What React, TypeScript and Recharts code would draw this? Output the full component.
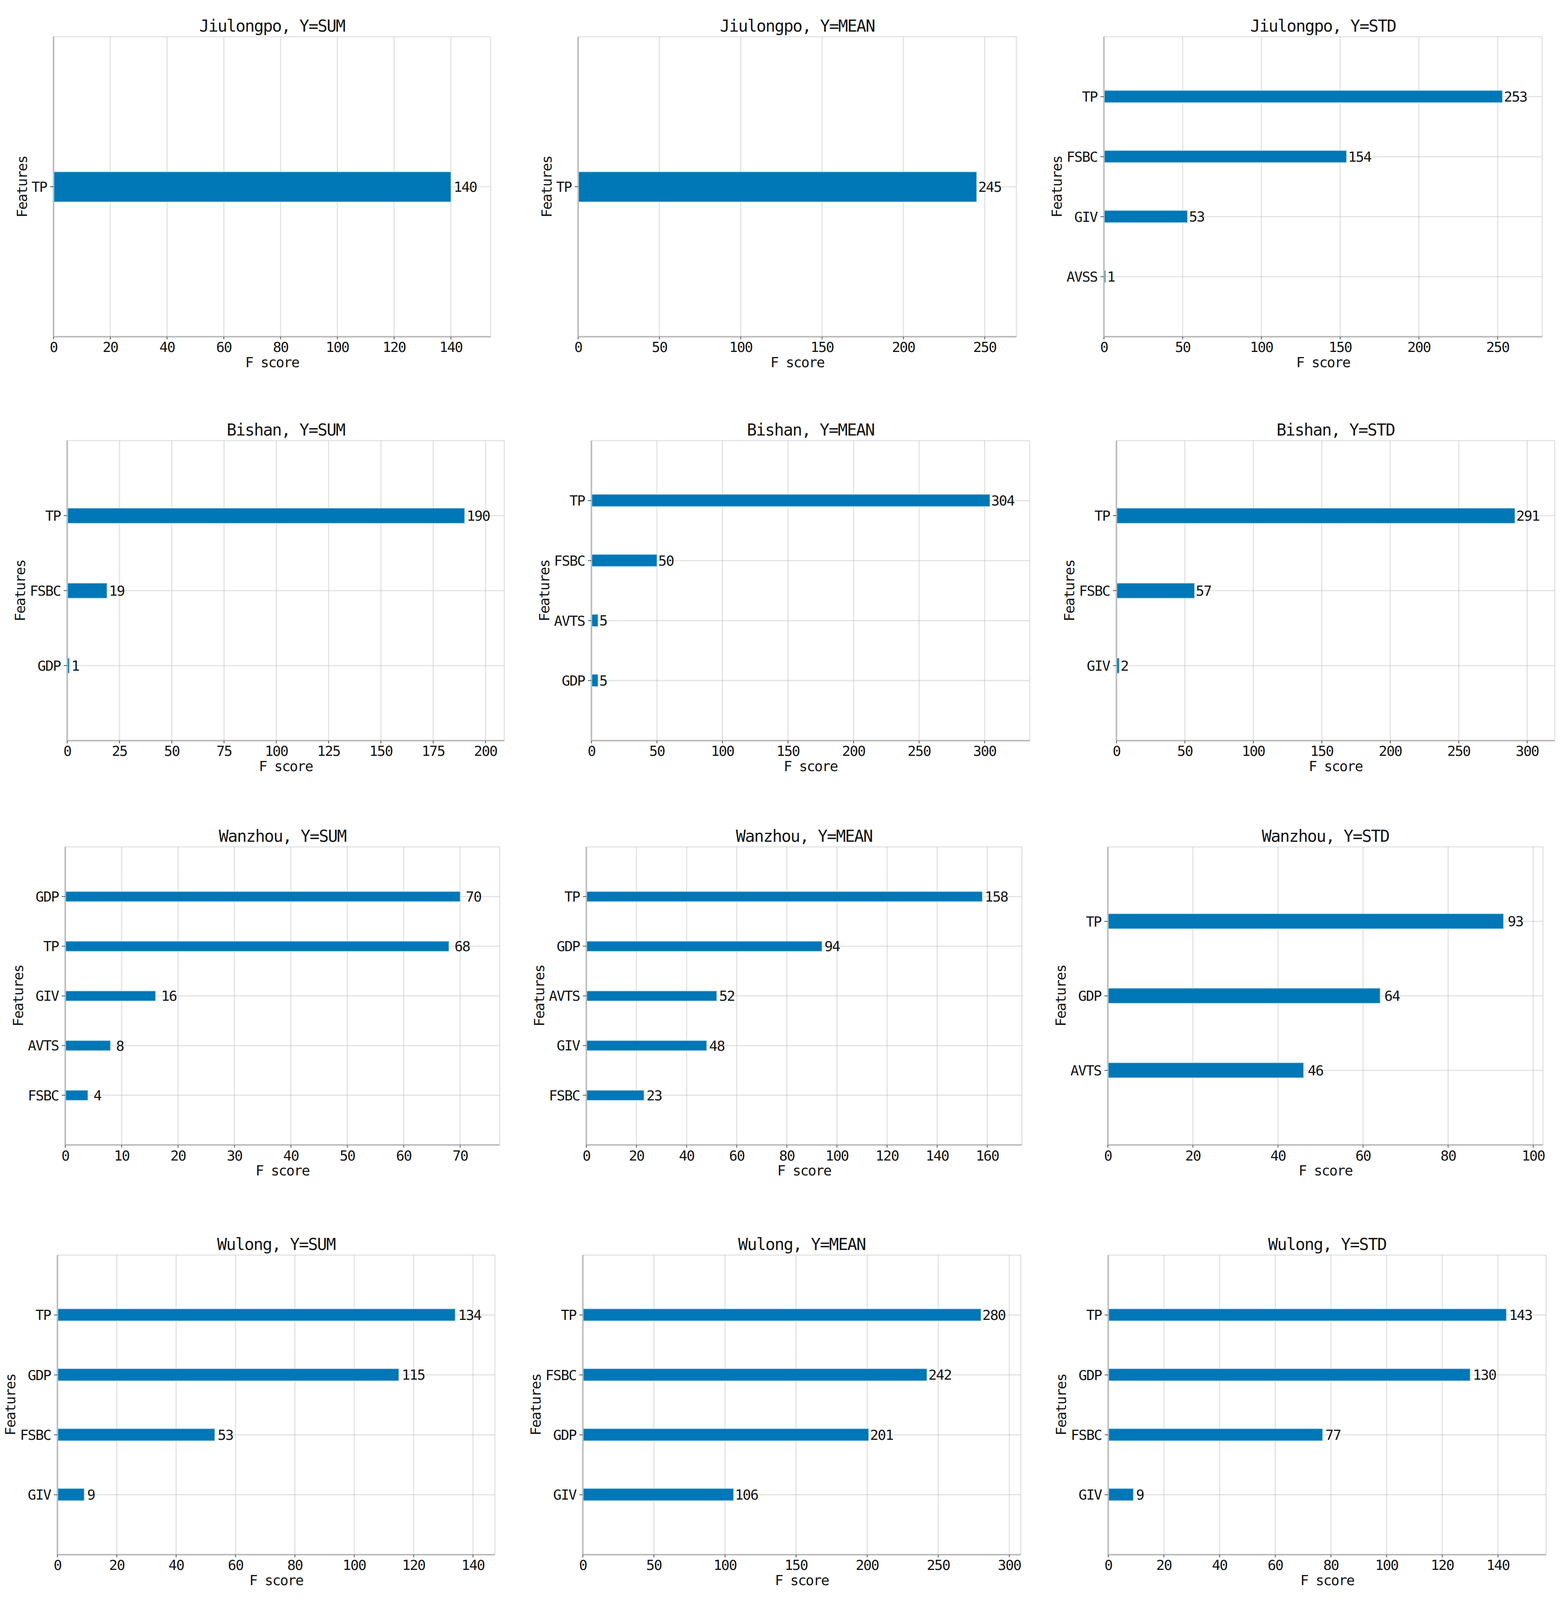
import React from "react";
import { BarChart, Bar, XAxis, YAxis, CartesianGrid, LabelList } from "recharts";

// Feature names listed top-to-bottom as they appear in each panel
const jiulongpoSumFeatures = ["TP"];
const jiulongpoSumScores = [140];
const jiulongpoSumTicks = [0, 20, 40, 60, 80, 100, 120, 140];

const jiulongpoMeanFeatures = ["TP"];
const jiulongpoMeanScores = [245];
const jiulongpoMeanTicks = [0, 50, 100, 150, 200, 250];

const jiulongpoStdFeatures = ["TP", "FSBC", "GIV", "AVSS"];
const jiulongpoStdScores = [253, 154, 53, 1];
const jiulongpoStdTicks = [0, 50, 100, 150, 200, 250];

const bishanSumFeatures = ["TP", "FSBC", "GDP"];
const bishanSumScores = [190, 19, 1];
const bishanSumTicks = [0, 25, 50, 75, 100, 125, 150, 175, 200];

const bishanMeanFeatures = ["TP", "FSBC", "AVTS", "GDP"];
const bishanMeanScores = [304, 50, 5, 5];
const bishanMeanTicks = [0, 50, 100, 150, 200, 250, 300];

const bishanStdFeatures = ["TP", "FSBC", "GIV"];
const bishanStdScores = [291, 57, 2];
const bishanStdTicks = [0, 50, 100, 150, 200, 250, 300];

const wanzhouSumFeatures = ["GDP", "TP", "GIV", "AVTS", "FSBC"];
const wanzhouSumScores = [70, 68, 16, 8, 4];
const wanzhouSumTicks = [0, 10, 20, 30, 40, 50, 60, 70];

const wanzhouMeanFeatures = ["TP", "GDP", "AVTS", "GIV", "FSBC"];
const wanzhouMeanScores = [158, 94, 52, 48, 23];
const wanzhouMeanTicks = [0, 20, 40, 60, 80, 100, 120, 140, 160];

const wanzhouStdFeatures = ["TP", "GDP", "AVTS"];
const wanzhouStdScores = [93, 64, 46];
const wanzhouStdTicks = [0, 20, 40, 60, 80, 100];

const wulongSumFeatures = ["TP", "GDP", "FSBC", "GIV"];
const wulongSumScores = [134, 115, 53, 9];
const wulongSumTicks = [0, 20, 40, 60, 80, 100, 120, 140];

const wulongMeanFeatures = ["TP", "FSBC", "GDP", "GIV"];
const wulongMeanScores = [280, 242, 201, 106];
const wulongMeanTicks = [0, 50, 100, 150, 200, 250, 300];

const wulongStdFeatures = ["TP", "GDP", "FSBC", "GIV"];
const wulongStdScores = [143, 130, 77, 9];
const wulongStdTicks = [0, 20, 40, 60, 80, 100, 120, 140];

const panels = [
  { title: "Jiulongpo, Y=SUM", features: jiulongpoSumFeatures, scores: jiulongpoSumScores, ticks: jiulongpoSumTicks },
  { title: "Jiulongpo, Y=MEAN", features: jiulongpoMeanFeatures, scores: jiulongpoMeanScores, ticks: jiulongpoMeanTicks },
  { title: "Jiulongpo, Y=STD", features: jiulongpoStdFeatures, scores: jiulongpoStdScores, ticks: jiulongpoStdTicks },
  { title: "Bishan, Y=SUM", features: bishanSumFeatures, scores: bishanSumScores, ticks: bishanSumTicks },
  { title: "Bishan, Y=MEAN", features: bishanMeanFeatures, scores: bishanMeanScores, ticks: bishanMeanTicks },
  { title: "Bishan, Y=STD", features: bishanStdFeatures, scores: bishanStdScores, ticks: bishanStdTicks },
  { title: "Wanzhou, Y=SUM", features: wanzhouSumFeatures, scores: wanzhouSumScores, ticks: wanzhouSumTicks },
  { title: "Wanzhou, Y=MEAN", features: wanzhouMeanFeatures, scores: wanzhouMeanScores, ticks: wanzhouMeanTicks },
  { title: "Wanzhou, Y=STD", features: wanzhouStdFeatures, scores: wanzhouStdScores, ticks: wanzhouStdTicks },
  { title: "Wulong, Y=SUM", features: wulongSumFeatures, scores: wulongSumScores, ticks: wulongSumTicks },
  { title: "Wulong, Y=MEAN", features: wulongMeanFeatures, scores: wulongMeanScores, ticks: wulongMeanTicks },
  { title: "Wulong, Y=STD", features: wulongStdFeatures, scores: wulongStdScores, ticks: wulongStdTicks },
];

// plot-area rectangles [left, right, top, bottom] in reference pixels
const plotRects = [
  [137, 1256, 95, 874], [1480, 2602, 95, 874], [2826, 3948, 95, 874],
  [172, 1291, 1144, 1923], [1514, 2636, 1144, 1923], [2858, 3980, 1144, 1923],
  [167, 1279, 2199, 2973], [1501, 2616, 2199, 2973], [2836, 3950, 2199, 2973],
  [147, 1267, 3259, 4037], [1492, 2613, 3259, 4037], [2837, 3958, 3259, 4037],
];

const PAGE_W = 4014;
const PAGE_H = 4155;
const FONT = '"DejaVu Sans Mono", "Liberation Mono", monospace';
const TEXT = "#141414";
const FS = 36;
const LS = -2;
const BAR = "#0077b6";
const SPINE = { stroke: "#bdbdbd", strokeWidth: 4 };
const TICK_LINE = { stroke: "#555", strokeWidth: 2 };
const tickText = { fill: TEXT, fontSize: FS, fontFamily: FONT, letterSpacing: LS, style: { letterSpacing: LS } };

function Panel({ title, features, scores, ticks, rect, k }) {
  const [x0, x1, ry0, ry1] = rect;
  const y0 = ry0 * k;
  const y1 = ry1 * k;
  const plotW = x1 - x0;
  const plotH = y1 - y0;
  const n = features.length;
  const xMax = Math.max(...scores) * 1.1;
  const unit = plotH / (n + 1);
  const data = features.map((f, i) => ({ feature: f, score: scores[i] }));
  const left = 240;
  const top = 90;
  const right = 70;
  const bottom = 120;
  const maxChars = Math.max(...features.map((f) => f.length));
  const textStyle = {
    position: "absolute",
    fontFamily: FONT,
    color: TEXT,
    whiteSpace: "nowrap",
    lineHeight: 1,
    letterSpacing: LS,
  } as const;

  return (
    <div style={{ position: "absolute", left: x0 - left, top: y0 - top, width: plotW + left + right, height: plotH + top + bottom }}>
      <BarChart
        width={plotW + left + right}
        height={plotH + top + bottom}
        data={data}
        layout="vertical"
        margin={{ top, right, bottom: 0, left: 0 }}
      >
        <XAxis
          xAxisId="b"
          type="number"
          domain={[0, xMax]}
          ticks={ticks}
          interval={0}
          allowDataOverflow
          height={bottom}
          axisLine={SPINE}
          tickLine={TICK_LINE}
          tickSize={7}
          tickMargin={7}
          tick={tickText}
        />
        <XAxis xAxisId="t" orientation="top" type="number" domain={[0, xMax]} height={0} tick={false} tickLine={false} axisLine={SPINE} />
        <YAxis
          yAxisId="l"
          type="category"
          dataKey="feature"
          width={left}
          padding={{ top: unit / 2, bottom: unit / 2 }}
          interval={0}
          axisLine={SPINE}
          tickLine={TICK_LINE}
          tickSize={9}
          tickMargin={8}
          tick={tickText}
        />
        <YAxis
          yAxisId="r"
          orientation="right"
          type="category"
          dataKey="feature"
          width={0}
          padding={{ top: unit / 2, bottom: unit / 2 }}
          tick={false}
          tickLine={false}
          axisLine={SPINE}
        />
        <Bar
          xAxisId="b"
          yAxisId="l"
          dataKey="score"
          barSize={unit * 0.2}
          fill={BAR}
          stroke="#9ccfec"
          strokeWidth={1.5}
          isAnimationActive={false}
        >
          <LabelList
            dataKey="score"
            position="right"
            offset={plotW / xMax}
            fill={TEXT}
            fontSize={FS}
            fontFamily={FONT}
            letterSpacing={LS}
            style={{ letterSpacing: LS }}
          />
        </Bar>
        <CartesianGrid xAxisId="b" yAxisId="l" stroke="#b0b0b0" strokeOpacity={0.35} strokeWidth={3} />
      </BarChart>

      <div style={{ ...textStyle, left: left + plotW / 2, top: top - 27, fontSize: 42, transform: "translate(-50%, -50%)" }}>{title}</div>
      <div style={{ ...textStyle, left: left + plotW / 2, top: top + plotH + 66, fontSize: FS, transform: "translate(-50%, -50%)" }}>F score</div>
      <div
        style={{
          ...textStyle,
          left: left - 40 - maxChars * 20,
          top: top + plotH / 2,
          fontSize: FS,
          transform: "translate(-50%, -50%) rotate(-90deg)",
        }}
      >
        Features
      </div>
    </div>
  );
}

export default function App() {
  // the visible viewport can be a little shorter than the window; squeeze rows to fit
  const viewH = typeof document !== "undefined" ? document.documentElement.clientHeight || PAGE_H : PAGE_H;
  const k = Math.min(1, viewH / PAGE_H);
  return (
    <div style={{ position: "absolute", left: 0, top: 0, width: PAGE_W, height: PAGE_H * k, background: "#fff", overflow: "hidden" }}>
      {panels.map((p, i) => (
        <Panel key={p.title} {...p} rect={plotRects[i]} k={k} />
      ))}
    </div>
  );
}
